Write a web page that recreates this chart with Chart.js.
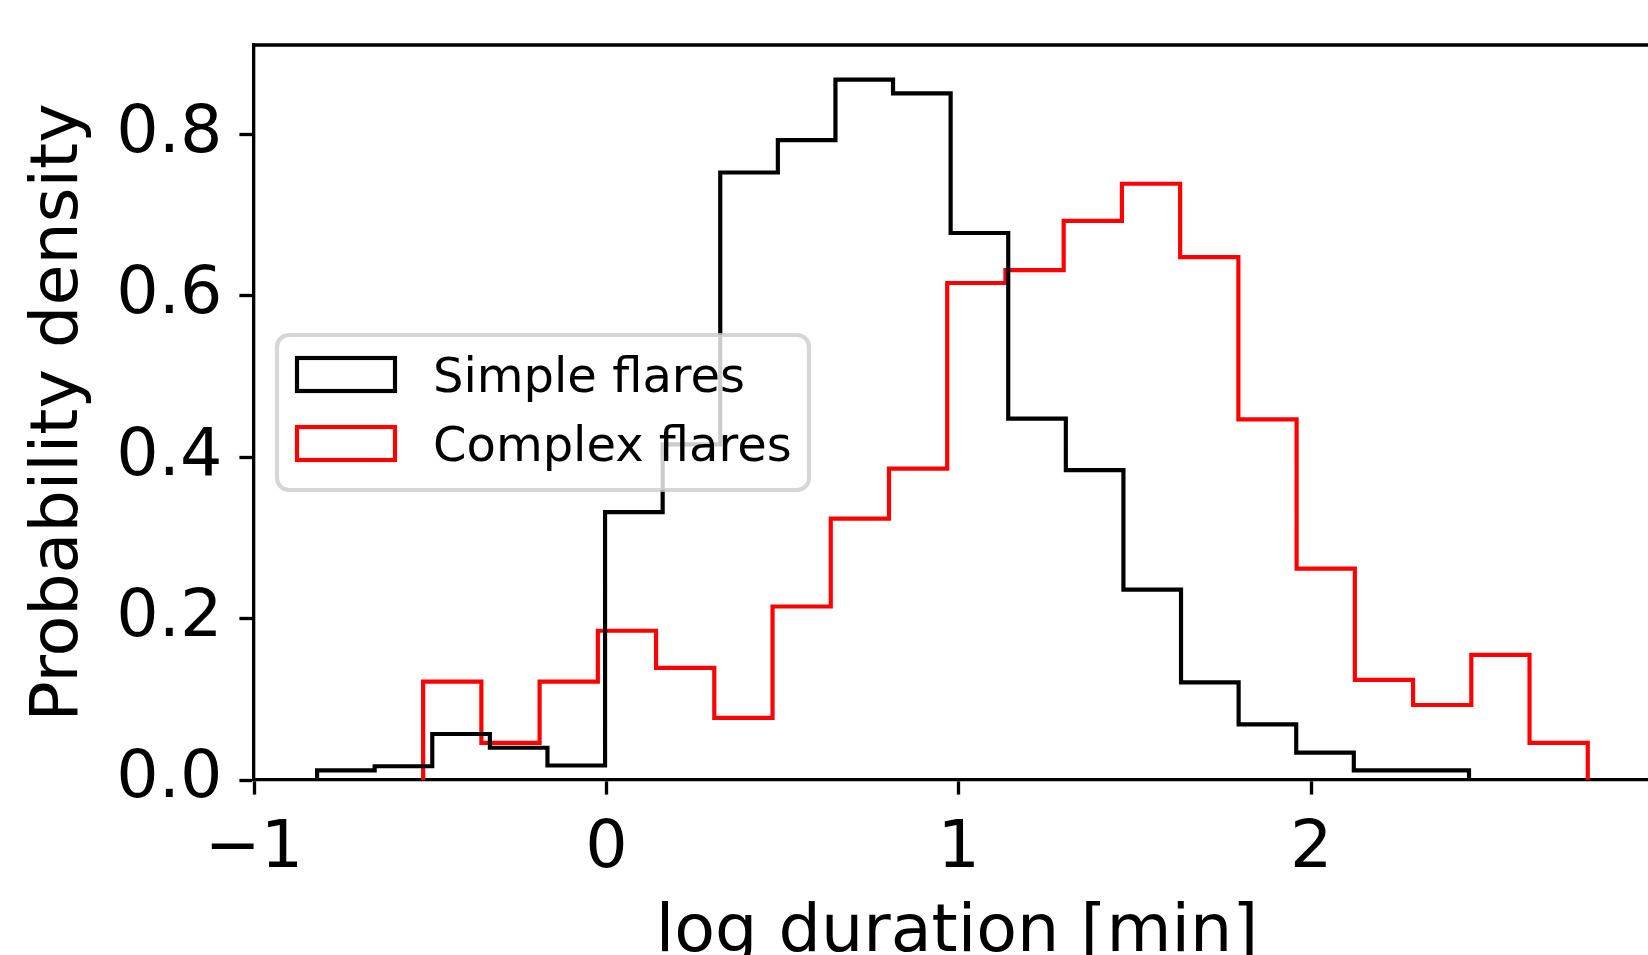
<!DOCTYPE html>
<html>
<head>
<meta charset="utf-8">
<script src="https://cdn.jsdelivr.net/npm/chart.js@4.4.1/dist/chart.umd.min.js"></script>
<style>
  html, body { margin: 0; padding: 0; background: #fff; overflow: hidden; }
  #histChart { position: absolute; left: 0; top: 0; }
</style>
</head>
<body>
<canvas id="histChart" width="1700" height="1000"></canvas>
<script>
// histogram data (density per bin, 20 equal bins over each range)
const seriesLabels = ["Simple flares", "Complex flares"];
const simpleRange = [-0.821, 2.448];
const simpleDensity = [0.012, 0.017, 0.057, 0.040, 0.018, 0.332, 0.416, 0.753, 0.793, 0.868,
                       0.851, 0.678, 0.448, 0.384, 0.236, 0.121, 0.069, 0.034, 0.012, 0.012];
const complexRange = [-0.520, 2.785];
const complexDensity = [0.122, 0.046, 0.122, 0.185, 0.139, 0.077, 0.215, 0.324, 0.386, 0.616,
                        0.632, 0.693, 0.739, 0.648, 0.447, 0.262, 0.124, 0.093, 0.155, 0.046];
const xTicks = [-1, 0, 1, 2];
const yTicks = [0, 0.2, 0.4, 0.6, 0.8];

const FONT = "'DejaVu Sans', 'Liberation Sans', sans-serif";
const LW = 4.17;

// outline of a step histogram, like histtype='step'
function stepPoints(range, values) {
    const w = (range[1] - range[0]) / values.length;
    const pts = [{ x: range[0], y: 0 }];
    values.forEach((v, i) => pts.push({ x: range[0] + i * w, y: v }));
    pts.push({ x: range[1], y: 0 });
    return pts;
}

// frame + legend drawn over the plot
const framePlugin = {
    id: "frame",
    afterDraw(chart) {
        const ctx = chart.ctx;
        const a = chart.chartArea;
        ctx.save();
        ctx.strokeStyle = "#000";
        ctx.lineWidth = 3.33;
        ctx.beginPath();
        ctx.moveTo(a.left, a.top);
        ctx.lineTo(a.right, a.top);
        ctx.lineTo(a.right, a.bottom);
        ctx.stroke();

        // legend
        const box = { x: 277, y: 335, w: 532, h: 155, r: 12 };
        ctx.beginPath();
        ctx.roundRect(box.x, box.y, box.w, box.h, box.r);
        ctx.fillStyle = "rgba(255,255,255,0.8)";
        ctx.fill();
        ctx.strokeStyle = "rgba(204,204,204,0.8)";
        ctx.lineWidth = LW;
        ctx.stroke();

        const rows = [374.5, 443.5];
        ctx.font = "48px " + FONT;
        ctx.textBaseline = "alphabetic";
        ctx.textAlign = "left";
        chart.data.datasets.forEach((ds, i) => {
            ctx.strokeStyle = ds.borderColor;
            ctx.lineWidth = LW;
            ctx.strokeRect(297, rows[i] - 16.5, 98, 33);
            ctx.fillStyle = "#000";
            ctx.fillText(ds.label, 433, rows[i] + 17);
        });
        ctx.restore();
    }
};

const ctx = document.getElementById("histChart").getContext("2d");

new Chart(ctx, {
    type: "line",
    data: {
        datasets: [
            {
                label: seriesLabels[0],
                data: stepPoints(simpleRange, simpleDensity),
                borderColor: "#000000",
                borderWidth: LW,
                stepped: "before",
                pointRadius: 0,
                fill: false
            },
            {
                label: seriesLabels[1],
                data: stepPoints(complexRange, complexDensity),
                borderColor: "#ff0000",
                borderWidth: LW,
                stepped: "before",
                pointRadius: 0,
                fill: false
            }
        ]
    },
    options: {
        responsive: false,
        animation: false,
        layout: { padding: { top: 45, right: 40, bottom: 0, left: 0 } },
        plugins: { legend: { display: false }, tooltip: { enabled: false } },
        scales: {
            x: {
                type: "linear",
                min: -1,
                max: 2.99,
                afterBuildTicks: axis => { axis.ticks = xTicks.map(v => ({ value: v })); },
                afterFit: axis => { axis.height = 220; axis.paddingLeft = 0; axis.paddingRight = 0; },
                grid: { drawOnChartArea: false, drawTicks: true, tickLength: 14.6, tickWidth: 3.33, tickColor: "#000" },
                border: { display: true, color: "#000", width: 3.33 },
                ticks: {
                    color: "#000",
                    padding: 15,
                    maxRotation: 0,
                    font: { family: FONT, size: 66.7, lineHeight: 1.2 },
                    callback: v => (v < 0 ? "\u2212" + Math.abs(v) : String(v))
                },
                title: {
                    display: true,
                    text: "log duration [min]",
                    color: "#000",
                    padding: { top: 0, bottom: 26 },
                    font: { family: FONT, size: 66.7, lineHeight: 1.2 }
                }
            },
            y: {
                min: 0,
                max: 0.911,
                afterBuildTicks: axis => { axis.ticks = yTicks.map(v => ({ value: v })); },
                afterFit: axis => { axis.width = 254; axis.paddingTop = 0; axis.paddingBottom = 0; },
                grid: { drawOnChartArea: false, drawTicks: true, tickLength: 14.6, tickWidth: 3.33, tickColor: "#000" },
                border: { display: true, color: "#000", width: 3.33 },
                ticks: {
                    color: "#000",
                    padding: 17,
                    font: { family: FONT, size: 66.7, lineHeight: 1.2 },
                    callback: v => v.toFixed(1)
                },
                title: {
                    display: true,
                    text: "Probability density",
                    color: "#000",
                    padding: { top: 20, bottom: 0 },
                    font: { family: FONT, size: 66.7, lineHeight: 1.2 }
                }
            }
        }
    },
    plugins: [framePlugin]
});
</script>
</body>
</html>
